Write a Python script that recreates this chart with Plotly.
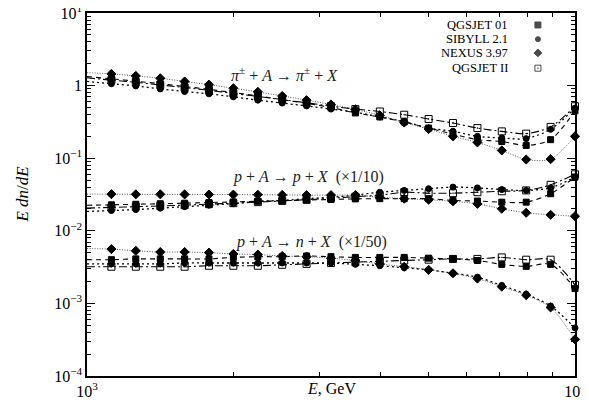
import plotly.graph_objects as go

# energies: 21 points, log-spaced from 1e3 to 1e4
E = [1000, 1122, 1259, 1413, 1585, 1778, 1995, 2239, 2512, 2818, 3162,
     3548, 3981, 4467, 5012, 5623, 6310, 7079, 7943, 8913, 10000]

models = ["QGSJET 01", "SIBYLL 2.1", "NEXUS 3.97", "QGSJET II"]

# pi + A -> pi + X
pi_qgs01 = [1.33, 1.24, 1.15, 1.06, 0.97, 0.89, 0.80, 0.72, 0.64, 0.57, 0.50,
            0.42, 0.37, 0.315, 0.26, 0.215, 0.18, 0.17, 0.15, 0.18, 0.45]
pi_sib = [1.14, 1.06, 0.99, 0.90, 0.83, 0.77, 0.70, 0.63, 0.575, 0.525, 0.475,
          0.43, 0.37, 0.32, 0.26, 0.235, 0.20, 0.19, 0.186, 0.25, 0.49]
pi_nex = [1.51, 1.45, 1.36, 1.26, 1.14, 1.03, 0.92, 0.82, 0.72, 0.63, 0.55,
          0.47, 0.39, 0.31, 0.252, 0.20, 0.165, 0.128, 0.096, 0.097, 0.20]
pi_qgs2 = [1.28, 1.19, 1.11, 1.02, 0.94, 0.86, 0.78, 0.71, 0.64, 0.58, 0.52,
           0.475, 0.44, 0.397, 0.347, 0.305, 0.26, 0.234, 0.218, 0.27, 0.52]

# p + A -> p + X  (x 1/10)
p_qgs01 = [0.0225, 0.0228, 0.0232, 0.0236, 0.024, 0.0245, 0.025, 0.0255, 0.026, 0.0265, 0.027,
           0.0275, 0.0277, 0.0277, 0.0277, 0.0262, 0.0257, 0.0248, 0.0248, 0.0324, 0.055]
p_sib = [0.0185, 0.019, 0.0196, 0.0205, 0.0215, 0.0225, 0.0237, 0.0255, 0.0262, 0.0277, 0.029,
         0.031, 0.034, 0.036, 0.038, 0.040, 0.039, 0.037, 0.036, 0.039, 0.055]
p_nex = [0.032, 0.032, 0.0318, 0.0318, 0.0317, 0.0316, 0.0315, 0.0314, 0.0312, 0.031, 0.031,
         0.031, 0.029, 0.0277, 0.0268, 0.0255, 0.0235, 0.0201, 0.0177, 0.0166, 0.0159]
p_qgs2 = [0.0205, 0.021, 0.0215, 0.022, 0.0226, 0.0233, 0.024, 0.0248, 0.0258, 0.0268, 0.0282,
          0.0295, 0.031, 0.034, 0.033, 0.033, 0.034, 0.035, 0.036, 0.043, 0.060]

# p + A -> n + X  (x 1/50)
n_qgs01 = [0.0040, 0.0040, 0.0041, 0.0041, 0.0041, 0.0041, 0.0043, 0.0044, 0.0044, 0.0045, 0.0044,
           0.0043, 0.0043, 0.0043, 0.0042, 0.0041, 0.0039, 0.00345, 0.00324, 0.00345, 0.0016]
n_sib = [0.0035, 0.0035, 0.0035, 0.0035, 0.0036, 0.0036, 0.0036, 0.0036, 0.0036, 0.0036, 0.0036,
         0.00345, 0.0033, 0.0031, 0.0029, 0.0026, 0.0023, 0.00177, 0.00134, 0.00092, 0.00046]
n_nex = [0.0057, 0.0056, 0.0053, 0.0051, 0.0051, 0.0050, 0.0048, 0.0047, 0.0045, 0.0044, 0.0042,
         0.0039, 0.0035, 0.0032, 0.0029, 0.0026, 0.0022, 0.0017, 0.0013, 0.00088, 0.00032]
n_qgs2 = [0.0032, 0.0032, 0.0032, 0.0032, 0.0032, 0.0033, 0.0033, 0.0033, 0.0034, 0.0035, 0.0036,
          0.0037, 0.0038, 0.0039, 0.0040, 0.0041, 0.0041, 0.0043, 0.0040, 0.0040, 0.0018]

series = {
    "QGSJET 01": [pi_qgs01, p_qgs01, n_qgs01],
    "SIBYLL 2.1": [pi_sib, p_sib, n_sib],
    "NEXUS 3.97": [pi_nex, p_nex, n_nex],
    "QGSJET II": [pi_qgs2, p_qgs2, n_qgs2],
}

style = {
    "QGSJET 01": dict(symbol="square", size=6, line=dict(color="black", width=1.1, dash="5px,4px")),
    "SIBYLL 2.1": dict(symbol="circle", size=6, line=dict(color="black", width=1.3, dash="2px,3px")),
    "NEXUS 3.97": dict(symbol="diamond", size=7, line=dict(color="#555555", width=1.0, dash="1px,1.5px")),
    "QGSJET II": dict(symbol="square-open-dot", size=7, line=dict(color="black", width=1.1, dash="8px,3px,2px,3px")),
}

fig = go.Figure()
for m in models:
    st = style[m]
    for vals in series[m]:
        fig.add_trace(go.Scatter(
            x=E, y=vals, mode="lines+markers", showlegend=False,
            line=dict(color=st["line"]["color"], width=st["line"]["width"],
                      dash=st["line"]["dash"], shape="spline", smoothing=0.8),
            marker=dict(symbol=st["symbol"], size=st["size"], color="black",
                        line=dict(color="black", width=1)),
            cliponaxis=False,
        ))

# legend (text right-aligned, marker on the right)
leg_y = [0.967, 0.928, 0.890, 0.848]
fig.add_trace(go.Scatter(
    x=[0.924] * 4, y=leg_y, mode="markers", xaxis="x2", yaxis="y2", showlegend=False,
    marker=dict(symbol=[style[m]["symbol"] for m in models],
                size=[6, 5, 6, 6], color="black", line=dict(color="black", width=1)),
    hoverinfo="skip",
))
serif = "Liberation Serif"
annotations = []
for m, yy in zip(models, leg_y):
    annotations.append(dict(text=m, x=0.867, y=yy, xref="paper", yref="paper",
                            xanchor="right", yanchor="middle", showarrow=False,
                            font=dict(family=serif, size=12.5, color="black")))

annotations += [
    dict(text="<i>π</i><sup>±</sup> + <i>A</i> → <i>π</i><sup>±</sup> + <i>X</i>",
         x=0.404, y=0.832, xref="paper", yref="paper", xanchor="center", yanchor="middle",
         showarrow=False, font=dict(family=serif, size=16, color="#222")),
    dict(text="<i>p</i> + <i>A</i> → <i>p</i> + <i>X</i>  (×1/10)",
         x=0.453, y=0.548, xref="paper", yref="paper", xanchor="center", yanchor="middle",
         showarrow=False, font=dict(family=serif, size=16, color="#222")),
    dict(text="<i>p</i> + <i>A</i> → <i>n</i> + <i>X</i>  (×1/50)",
         x=0.461, y=0.369, xref="paper", yref="paper", xanchor="center", yanchor="middle",
         showarrow=False, font=dict(family=serif, size=16, color="#222")),
    # axis titles placed as annotations (no automargin)
    dict(text="<i>E</i>, GeV", x=0.5, y=-0.064, xref="paper", yref="paper",
         xanchor="center", yanchor="bottom", showarrow=False,
         font=dict(family=serif, size=16, color="black")),
    dict(text="<i>E dn</i>/<i>dE</i>", x=-0.133, y=0.5, xref="paper", yref="paper",
         xanchor="center", yanchor="middle", showarrow=False, textangle=-90,
         font=dict(family=serif, size=17, color="black")),
]

ymajor = [1e-4, 1e-3, 1e-2, 1e-1, 1, 10]
ymajor_text = ["10<sup>−4</sup>", "10<sup>−3</sup>", "10<sup>−2</sup>", "10<sup>−1</sup>", "1", "10<sup>1</sup>"]
yminor = [m * 10.0 ** d for d in range(-4, 1) for m in range(2, 10)]
xmajor = [1000, 10000]
xmajor_text = ["10<sup>3</sup>", "10<sup>4</sup>"]
xminor = [m * 1000 for m in range(2, 10)]

axis_common = dict(showline=True, linecolor="black", linewidth=1.5, mirror="ticks",
                   ticks="inside", ticklen=8, tickwidth=1, tickcolor="black",
                   showgrid=False, zeroline=False, automargin=False,
                   ticklabeloverflow="allow",
                   tickfont=dict(family=serif, size=16, color="black"))

# page body has an 8px margin: the figure is sized/placed to compensate
fig.update_layout(
    width=573, height=392,
    margin=dict(l=79, r=6, t=5, b=24),
    paper_bgcolor="white", plot_bgcolor="white",
    xaxis=dict(type="log", range=[3, 4], tickmode="array", tickvals=xmajor, ticktext=xmajor_text,
               minor=dict(tickmode="array", tickvals=xminor, ticks="inside", ticklen=4,
                          tickcolor="black", showgrid=False),
               **axis_common),
    yaxis=dict(type="log", range=[-4, 1], tickmode="array", tickvals=ymajor, ticktext=ymajor_text,
               minor=dict(tickmode="array", tickvals=yminor, ticks="inside", ticklen=4,
                          tickcolor="black", showgrid=False),
               **axis_common),
    xaxis2=dict(overlaying="x", range=[0, 1], visible=False, fixedrange=True),
    yaxis2=dict(overlaying="y", range=[0, 1], visible=False, fixedrange=True),
    annotations=annotations,
    showlegend=False,
)

fig.write_html("out.html")
